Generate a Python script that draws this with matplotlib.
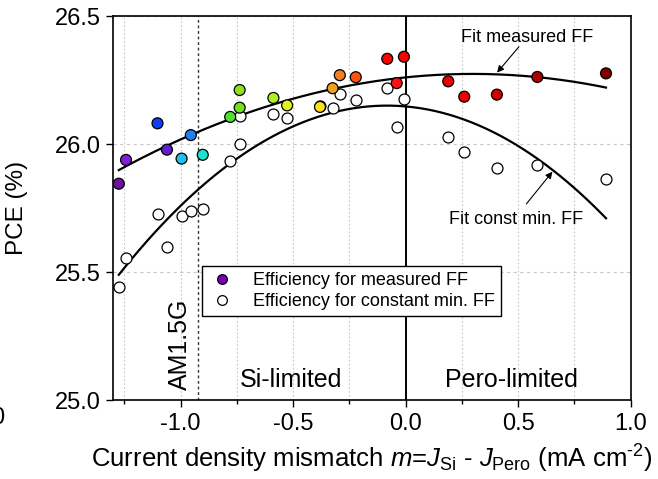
import numpy as np
import matplotlib.pyplot as plt

plt.rcParams['font.family'] = ['Liberation Sans', 'DejaVu Sans']
plt.rcParams['mathtext.fontset'] = 'custom'
plt.rcParams['mathtext.rm'] = 'Liberation Sans'
plt.rcParams['mathtext.it'] = 'Liberation Sans:italic'

# efficiency for measured FF
m_meas = [-1.275, -1.243, -1.103, -1.061, -0.996, -0.955, -0.902, -0.780, -0.738, -0.738,
          -0.588, -0.527, -0.379, -0.381, -0.325, -0.293, -0.222, -0.082, -0.040, -0.008,
          0.189, 0.260, 0.405, 0.585, 0.890]
pce_meas = [25.846, 25.939, 26.082, 25.979, 25.944, 26.036, 25.959, 26.107, 26.143, 26.212,
            26.181, 26.152, 26.148, 26.146, 26.219, 26.270, 26.262, 26.334, 26.239, 26.342,
            26.246, 26.186, 26.194, 26.263, 26.277]
colors_meas = ['#7010a0', '#8020d0', '#1040f0', '#6020d0', '#20c0f0', '#2080f0', '#20e0d0',
               '#50e030', '#70e020', '#90e020', '#b0f020', '#e0f020', '#ffe020', '#ffe020',
               '#f0a020', '#f08020', '#ff5010', '#ff0000', '#ff1010', '#ff0000',
               '#f00000', '#f00000', '#d00000', '#b00000', '#800000']

# efficiency for constant min. FF
m_const = [-1.275, -1.243, -1.103, -1.061, -0.996, -0.955, -0.902, -0.780, -0.735, -0.738,
           -0.588, -0.527, -0.323, -0.293, -0.222, -0.082, -0.040, -0.008,
           0.189, 0.260, 0.405, 0.585, 0.890]
pce_const = [25.443, 25.555, 25.727, 25.598, 25.721, 25.741, 25.746, 25.935, 26.001, 26.112,
             26.120, 26.104, 26.141, 26.195, 26.174, 26.220, 26.068, 26.177,
             26.027, 25.971, 25.907, 25.920, 25.863]

am15g = -0.923

fig = plt.figure(figsize=(6.58, 4.79), dpi=100)
ax = fig.add_axes([0.172, 0.1643, 0.7866, 0.8017])

# quadratic fits
xf = np.linspace(min(m_meas), max(m_meas), 200)
p_meas = np.polyfit(m_meas, pce_meas, 2)
p_const = np.polyfit(m_const, pce_const, 2)
ax.plot(xf, np.polyval(p_meas, xf), color='black', lw=1.6, zorder=3)
ax.plot(xf, np.polyval(p_const, xf), color='black', lw=1.6, zorder=3)

ax.scatter(m_const, pce_const, s=62, facecolor='white', edgecolor='black', lw=0.9, zorder=4)
ax.scatter(m_meas, pce_meas, s=62, c=colors_meas, edgecolor='black', lw=0.9, zorder=5)

ax.axvline(0, color='black', lw=1.4, zorder=2)
ax.axvline(am15g, color='#333333', lw=1.0, ls=(0, (2, 2)), zorder=2)

ax.set_xlim(-1.3, 1.0)
ax.set_ylim(25.0, 26.5)
ax.set_xticks([-1.0, -0.5, 0.0, 0.5, 1.0])
ax.set_xticks([-1.25, -0.75, -0.25, 0.25, 0.75], minor=True)
ax.set_yticks([25.0, 25.5, 26.0, 26.5])
ax.set_xticklabels(['-1.0', '-0.5', '0.0', '0.5', '1.0'])
ax.tick_params(labelsize=17, direction='out', length=5, width=1, pad=4)
ax.tick_params(which='minor', length=3, width=1)
ax.xaxis.grid(True, which='both', color='#c8c8c8', ls=(0, (1.5, 2)), lw=0.8)
ax.yaxis.grid(True, which='major', color='#c8c8c8', ls=(0, (3, 3)), lw=0.8)
ax.set_axisbelow(True)
for s in ax.spines.values():
    s.set_linewidth(1.2)

ax.set_ylabel('PCE (%)', fontsize=17.5)
ax.yaxis.set_label_coords(-0.165, 0.5)
ax.set_xlabel(r'Current density mismatch $m$=$J_{\mathrm{Si}}$ - $J_{\mathrm{Pero}}$ (mA cm$^{\text{-2}}$)',
              fontsize=18.5, labelpad=6)

ax.text(am15g - 0.08, 25.04, 'AM1.5G', rotation=90, fontsize=18, ha='center', va='bottom')
ax.text(-0.508, 25.053, 'Si-limited', fontsize=18, ha='center', va='baseline')
ax.text(0.471, 25.053, 'Pero-limited', fontsize=18, ha='center', va='baseline')

ax.text(0.541, 26.416, 'Fit measured FF', fontsize=13, ha='center', va='center')
ax.annotate('', xy=(0.406, 26.280), xytext=(0.503, 26.381),
            arrowprops=dict(arrowstyle='-|>', color='black', lw=0.8, mutation_scale=10,
                            shrinkA=0, shrinkB=0))
ax.text(0.492, 25.707, 'Fit const min. FF', fontsize=13, ha='center', va='center')
ax.annotate('', xy=(0.652, 25.893), xytext=(0.536, 25.767),
            arrowprops=dict(arrowstyle='-|>', color='black', lw=0.8, mutation_scale=10,
                            shrinkA=0, shrinkB=0))

h1 = plt.Line2D([], [], ls='none', marker='o', ms=7, mfc='#7a00b8', mec='black', mew=0.9)
h2 = plt.Line2D([], [], ls='none', marker='o', ms=7, mfc='white', mec='black', mew=0.9)
leg = ax.legend([h1, h2], ['Efficiency for measured FF', 'Efficiency for constant min. FF'],
                loc='upper left', bbox_to_anchor=(0.171, 0.3505), borderaxespad=0,
                fontsize=13, fancybox=False, edgecolor='black', framealpha=1,
                handletextpad=0.9, borderpad=0.35, labelspacing=0.22, handlelength=1.6)
leg.get_frame().set_linewidth(1.0)
leg.set_zorder(6)

fig.text(0.006, 0.127, '0', fontsize=17, ha='right', va='center')

fig.savefig('out.png', dpi=100)
